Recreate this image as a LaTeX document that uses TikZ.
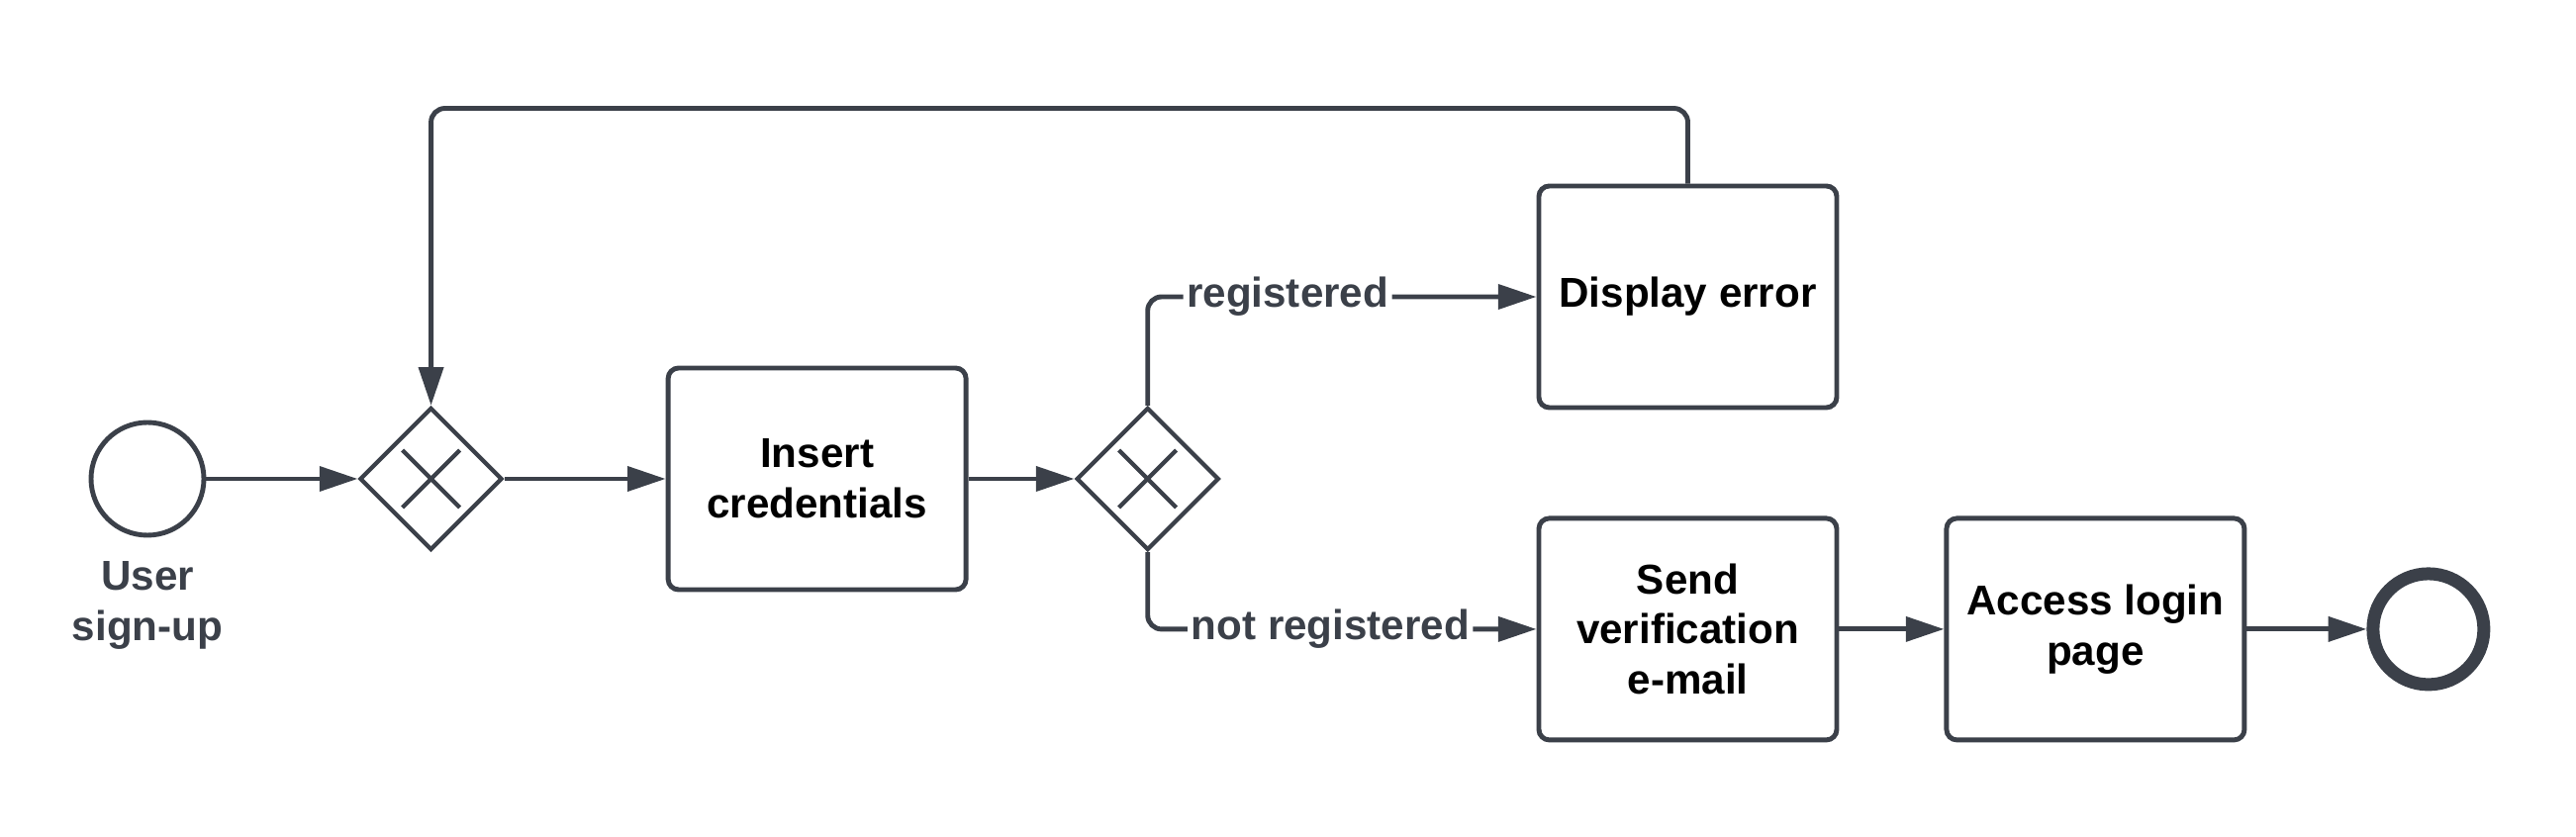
\documentclass[tikz,border=0pt]{standalone}
\usepackage{fontspec}
\setmainfont{Liberation Sans}
\usetikzlibrary{arrows.meta,positioning,shapes.geometric}
\definecolor{slate}{HTML}{3B4049}

\begin{document}
\begin{tikzpicture}[
  font=\fontsize{12}{14.5}\selectfont\bfseries,
  line width=1.4pt,
  task/.style={draw=slate,fill=white,rounded corners=3pt,minimum width=3.01cm,minimum height=2.24cm,align=center,text=black},
  gate/.style={draw=slate,diamond,minimum width=1.44cm,minimum height=1.44cm,inner sep=0pt,line width=1.2pt,
    path picture={\draw[slate,line width=1.2pt]
      ([shift={(-.29,-.29)}]path picture bounding box.center) -- ([shift={(.29,.29)}]path picture bounding box.center)
      ([shift={(-.29,.29)}]path picture bounding box.center) -- ([shift={(.29,-.29)}]path picture bounding box.center);}},
  event/.style={draw=slate,circle,minimum size=1.14cm,inner sep=0pt},
  arr/.style={-{Triangle[length=11pt,width=7pt]},draw=slate},
  lbl/.style={fill=white,text=slate,inner sep=1pt}
]
\useasboundingbox (0,0) rectangle (26.03,8.46);
\node[event] (start) at (1.49,3.62) {};
\node[text=slate,align=center,below=1mm of start] (startlbl) {User\\sign-up};
\node[gate,right=1.53cm of start] (g1) {};
\node[task,right=1.63cm of g1] (ins) {Insert\\credentials};
\node[gate,right=1.07cm of ins] (g2) {};
\node[task] (err) at (17.055,5.46) {Display error};
\node[task,below=1.07cm of err] (send) {Send\\verification\\e-mail};
\node[task,right=1.06cm of send] (login) {Access login\\page};
\node[event,minimum size=1.12cm,line width=3.7pt,right=1.21cm of login] (end) {};
\draw[arr] (start) -- (g1);
\draw[arr] (g1) -- (ins);
\draw[arr] (ins) -- (g2);
\draw[arr,rounded corners=4pt] (g2.north) |- node[lbl,pos=0.68]{registered} (err);
\draw[arr,rounded corners=4pt] (g2.south) |- node[lbl,pos=0.735]{not registered} (send);
\draw[arr] (send) -- (login);
\draw[arr] (login) -- (end);
% back to the first gateway
\draw[arr,rounded corners=4pt] (err.north) -- ++(0,0.76) -| (g1.north);
\end{tikzpicture}
\end{document}
